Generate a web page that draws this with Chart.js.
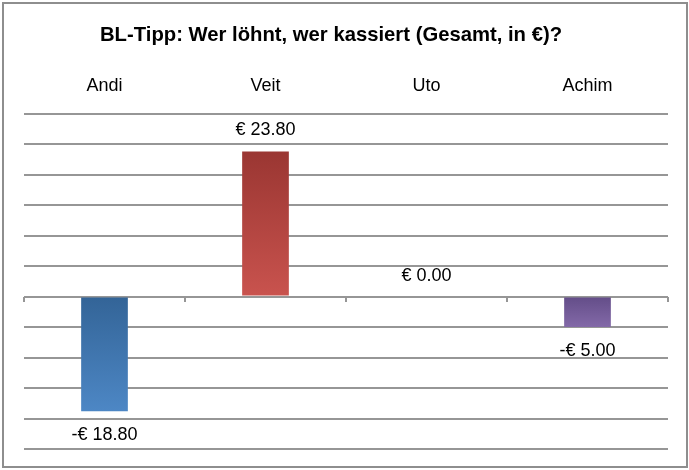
<!DOCTYPE html>
<html>
<head>
<meta charset="utf-8">
<script src="https://cdn.jsdelivr.net/npm/chart.js@4.4.1/dist/chart.umd.min.js"></script>
<style>
  html, body { margin: 0; padding: 0; background: #fff; }
  #wrap { position: relative; width: 689px; height: 470px; }
  #frame {
    position: absolute; left: 2px; top: 2px; width: 686px; height: 466px;
    box-sizing: border-box; border: 2px solid #8e8e8e; pointer-events: none;
  }
</style>
</head>
<body>
<div id="wrap">
  <canvas id="chart" width="689" height="470"></canvas>
  <div id="frame"></div>
</div>
<script>
// Chart data
const TITLE = 'BL-Tipp: Wer löhnt, wer kassiert (Gesamt, in €)?';
const players = ['Andi', 'Veit', 'Uto', 'Achim'];
const balance = [-18.80, 23.80, 0.00, -5.00];
const barTop = ['#336497', '#9a3632', '#e0e0e0', '#634d88'];
const barBottom = ['#4d87c5', '#c9534e', '#f0f0f0', '#8369a8'];
const yMin = -25, yMax = 30, yStep = 5;

const GRID = '#969696';

function euro(v) {
  return (v < 0 ? '-€ ' : '€ ') + Math.abs(v).toFixed(2);
}

// Gradient per bar: dark at the top edge, light at the bottom edge
function barFill(ctx) {
  const chart = ctx.chart;
  const i = ctx.dataIndex;
  if (!chart.chartArea || !chart.scales.y) return barBottom[i];
  const y = chart.scales.y;
  const a = y.getPixelForValue(balance[i]);
  const b = y.getPixelForValue(0);
  const top = Math.min(a, b), bottom = Math.max(a, b);
  if (bottom - top < 1) return barBottom[i];
  const g = chart.ctx.createLinearGradient(0, top, 0, bottom);
  g.addColorStop(0, barTop[i]);
  g.addColorStop(1, barBottom[i]);
  return g;
}

// Title: condensed bold, a bit left of centre like the original
const titlePlugin = {
  id: 'titleText',
  afterDraw(chart) {
    const c = chart.ctx;
    c.save();
    c.font = 'bold 21px "Liberation Sans", Arial, sans-serif';
    c.fillStyle = '#000';
    c.textAlign = 'center';
    c.textBaseline = 'middle';
    c.translate(331, 35);
    c.scale(0.965, 1);
    c.fillText(TITLE, 0, 0);
    c.restore();
  }
};

const valueLabels = {
  id: 'valueLabels',
  afterDatasetsDraw(chart) {
    const c = chart.ctx;
    const meta = chart.getDatasetMeta(0);
    c.save();
    c.font = '18px "Liberation Sans", Arial, sans-serif';
    c.fillStyle = '#000';
    c.textAlign = 'center';
    c.textBaseline = 'middle';
    meta.data.forEach((bar, i) => {
      const v = balance[i];
      const y = v >= 0 ? bar.y - 21 : bar.y + 24;
      c.fillText(euro(v), bar.x, y);
    });
    c.restore();
  }
};

new Chart(document.getElementById('chart'), {
  type: 'bar',
  data: {
    labels: players,
    datasets: [{
      data: balance,
      backgroundColor: barFill,
      borderWidth: 0,
      categoryPercentage: 1,
      barPercentage: 0.29,
      xAxisID: 'x',
    }]
  },
  options: {
    responsive: false,
    animation: false,
    layout: { padding: { left: 24, right: 21, top: 58, bottom: 21 } },
    plugins: {
      legend: { display: false },
      tooltip: { enabled: false },
      title: { display: false },
    },
    scales: {
      x: {
        position: 'top',
        offset: true,
        grid: { display: false, drawTicks: false },
        border: { display: false },
        ticks: {
          color: '#000',
          padding: 17,
          font: { family: '"Liberation Sans", Arial, sans-serif', size: 18 },
        },
      },
      xZero: {
        type: 'category',
        labels: players,
        position: { y: 0 },
        offset: true,
        grid: {
          offset: true,
          drawOnChartArea: false,
          drawTicks: true,
          tickLength: 5,
          color: GRID,
          lineWidth: 2,
        },
        border: { display: false },
        ticks: { display: false },
      },
      y: {
        min: yMin,
        max: yMax,
        ticks: { display: false, stepSize: yStep },
        grid: { color: GRID, lineWidth: 2, drawTicks: false },
        border: { display: false },
      }
    }
  },
  plugins: [titlePlugin, valueLabels]
});
</script>
</body>
</html>
